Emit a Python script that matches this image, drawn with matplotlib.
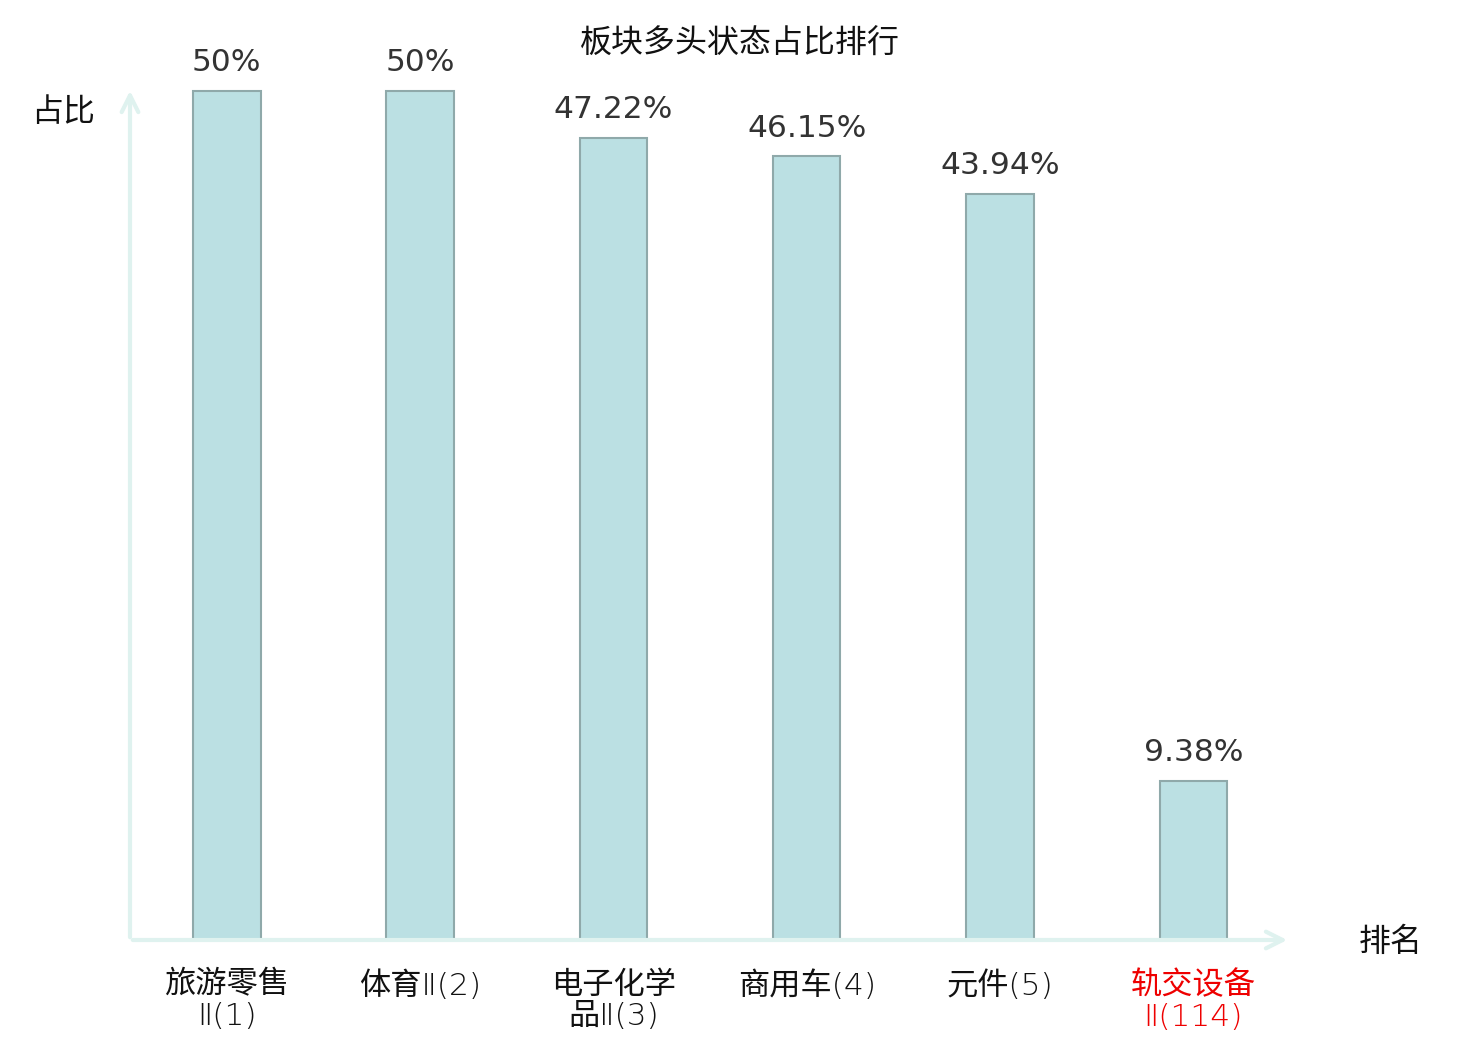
import matplotlib
matplotlib.use('Agg')
import matplotlib.pyplot as plt

plt.rcParams['font.family'] = ['Noto Sans CJK SC', 'DejaVu Sans']

# 数据
categories = ['旅游零售\nⅡ(1)', '体育Ⅱ(2)', '电子化学\n品Ⅱ(3)', '商用车(4)', '元件(5)', '轨交设备\nⅡ(114)']
values = [50, 50, 47.22, 46.15, 43.94, 9.38]
value_labels = ['50%', '50%', '47.22%', '46.15%', '43.94%', '9.38%']
label_colors = ['#111111', '#111111', '#111111', '#111111', '#111111', '#ee0000']

fig = plt.figure(figsize=(14.8, 10.4), dpi=100)
ax = fig.add_axes([130 / 1480, 100 / 1040, 1160 / 1480, 852 / 1040])

x = list(range(len(values)))
bars = ax.bar(x, values, width=0.35, color='#bbe0e3', edgecolor='#8fa9aa', linewidth=1.5, zorder=3)

ax.set_xlim(-0.5, 5.5)
ax.set_ylim(0, 50.18)

# 数值标签
for b, lab in zip(bars, value_labels):
    ax.annotate(lab, (b.get_x() + b.get_width() / 2, b.get_height()),
                xytext=(0, 10), textcoords='offset points', ha='center', va='bottom',
                fontsize=22.5, color='#333333', family='DejaVu Sans')

# 坐标轴 (箭头)
for s in ax.spines.values():
    s.set_visible(False)
ax.set_yticks([])
ax.set_xticks(x)
ax.set_xticklabels(categories, fontsize=22.5, family=['DejaVu Sans', 'Noto Sans CJK SC'],
                   fontweight='ultralight', linespacing=1.12)
ax.tick_params(axis='x', length=0, pad=22)
for t, c in zip(ax.get_xticklabels(), label_colors):
    t.set_color(c)

axis_color = '#dff2ef'
ax.annotate('', xy=(1.0, 0), xytext=(0, 0), xycoords='axes fraction',
            arrowprops=dict(arrowstyle='->', color=axis_color, lw=3, mutation_scale=30),
            annotation_clip=False)
ax.annotate('', xy=(0, 1.0), xytext=(0, 0), xycoords='axes fraction',
            arrowprops=dict(arrowstyle='->', color=axis_color, lw=3, mutation_scale=30),
            annotation_clip=False)

fig.text(740 / 1480, 1 - 44 / 1040, '板块多头状态占比排行', ha='center', va='center', fontsize=23, color='#111111')
fig.text(63 / 1480, 1 - 112 / 1040, '占比', ha='center', va='center', fontsize=23, color='#111111')
fig.text(1391 / 1480, 1 - 942 / 1040, '排名', ha='center', va='center', fontsize=23, color='#111111')

fig.savefig('out.png', dpi=100)
